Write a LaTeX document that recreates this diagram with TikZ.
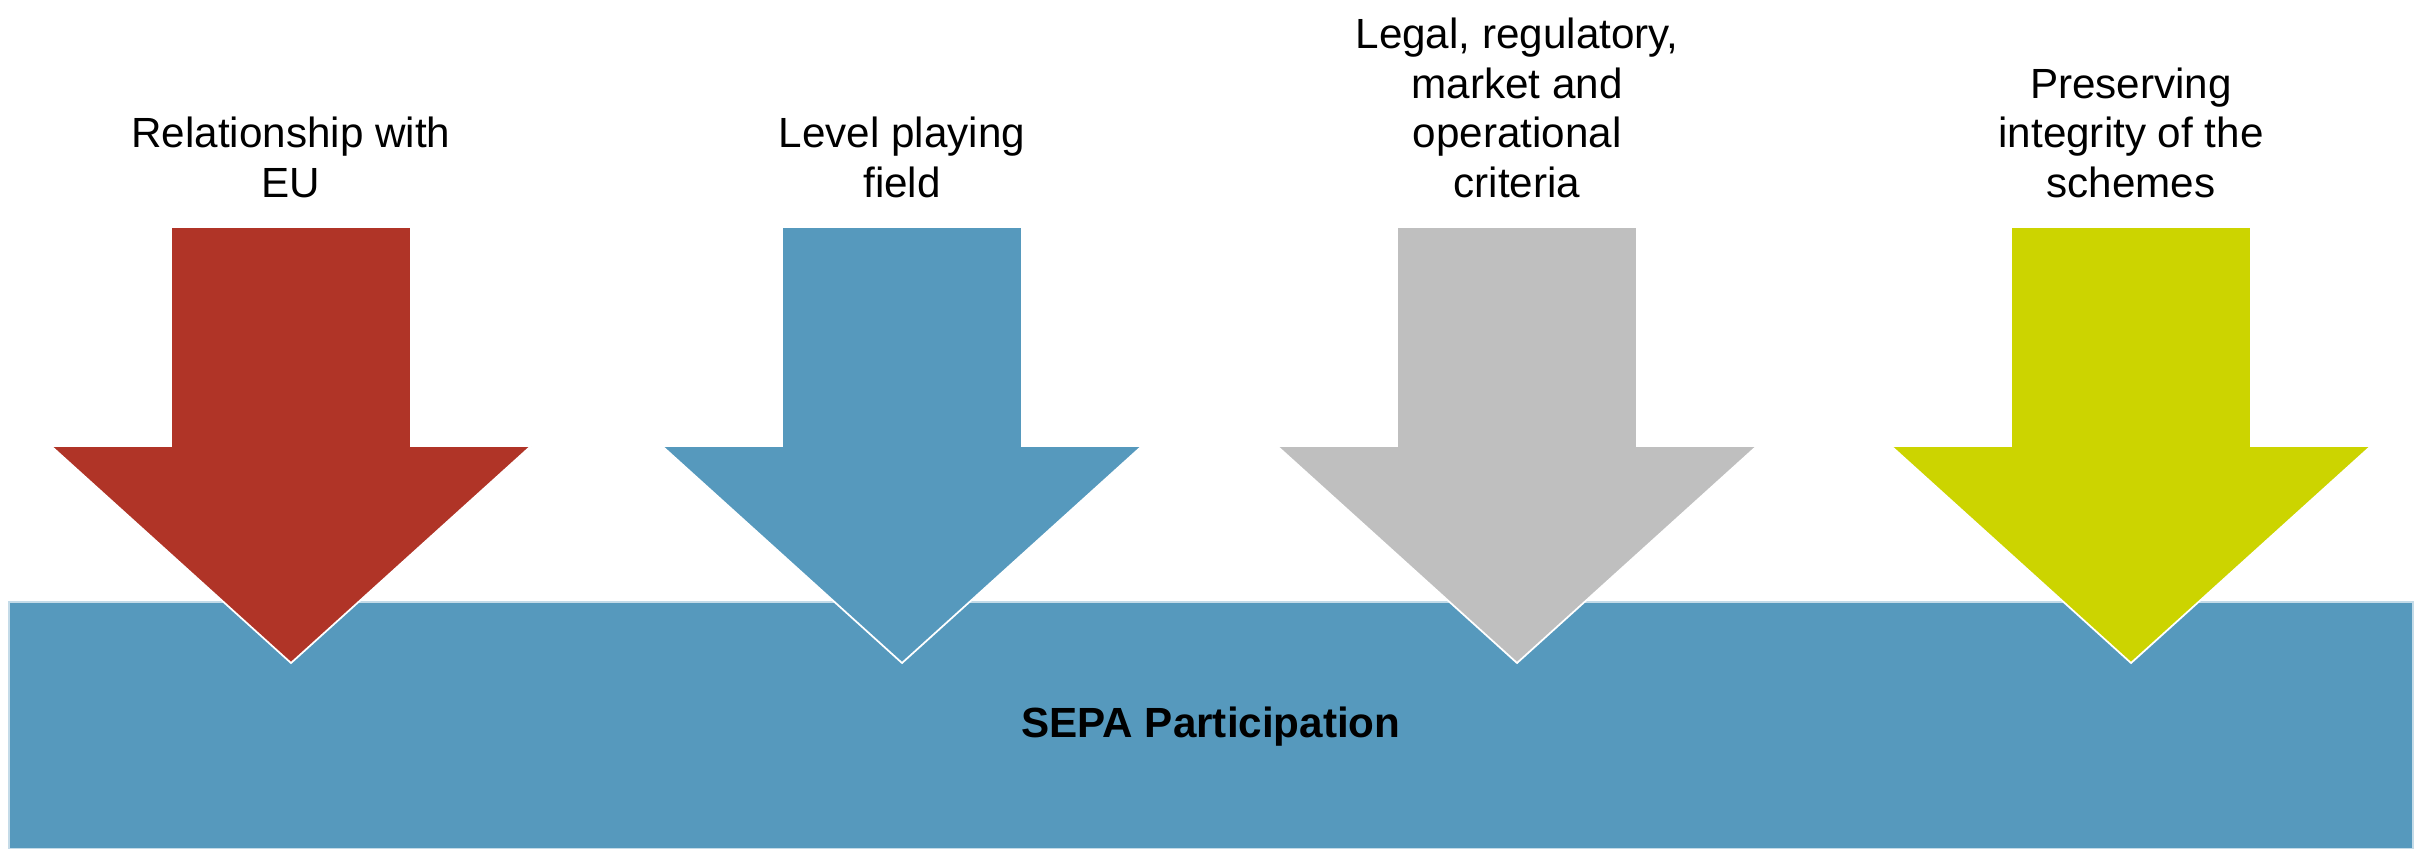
\documentclass[tikz,border=0pt]{standalone}
\usepackage{fontspec}
\setmainfont{Liberation Sans}
\definecolor{sepablue}{RGB}{86,153,189}
\definecolor{eured}{RGB}{176,52,39}
\definecolor{critgray}{RGB}{191,191,191}
\definecolor{schemelime}{RGB}{204,212,0}
\tikzset{
  bigarrow/.style={draw=white,line width=0.5pt,line join=miter},
  toplabel/.style={anchor=south,align=center,inner sep=0pt,font=\fontsize{12}{14.2}\selectfont},
}
\begin{document}
\begin{tikzpicture}[x=0.01cm,y=-0.01cm]
	\useasboundingbox (0,0) rectangle (2425,849);
	% participation bar
	\draw[draw=sepablue!35,line width=0.4pt,fill=sepablue] (9,602) rectangle (2413,849);
	\node (sepa) at (1211,727) {\fontsize{12}{14}\selectfont\bfseries SEPA Participation};
	% the four arrows with their labels
	\foreach \c/\col/\txt [count=\i] in {291/eured/{Relationship with\\EU},
			902/sepablue/{Level playing\\field},
			1517/critgray/{Legal, regulatory,\\market and\\operational\\criteria},
			2131/schemelime/{Preserving\\integrity of the\\schemes}}{
		\fill[bigarrow,fill=\col] (\c-120,227) -- (\c+120,227) -- (\c+120,446) -- (\c+240,446)
			-- (\c,663) -- (\c-240,446) -- (\c-120,446) -- cycle;
		\node[toplabel] (lab\i) at (\c,199) {\txt};
	}
\end{tikzpicture}
\end{document}
